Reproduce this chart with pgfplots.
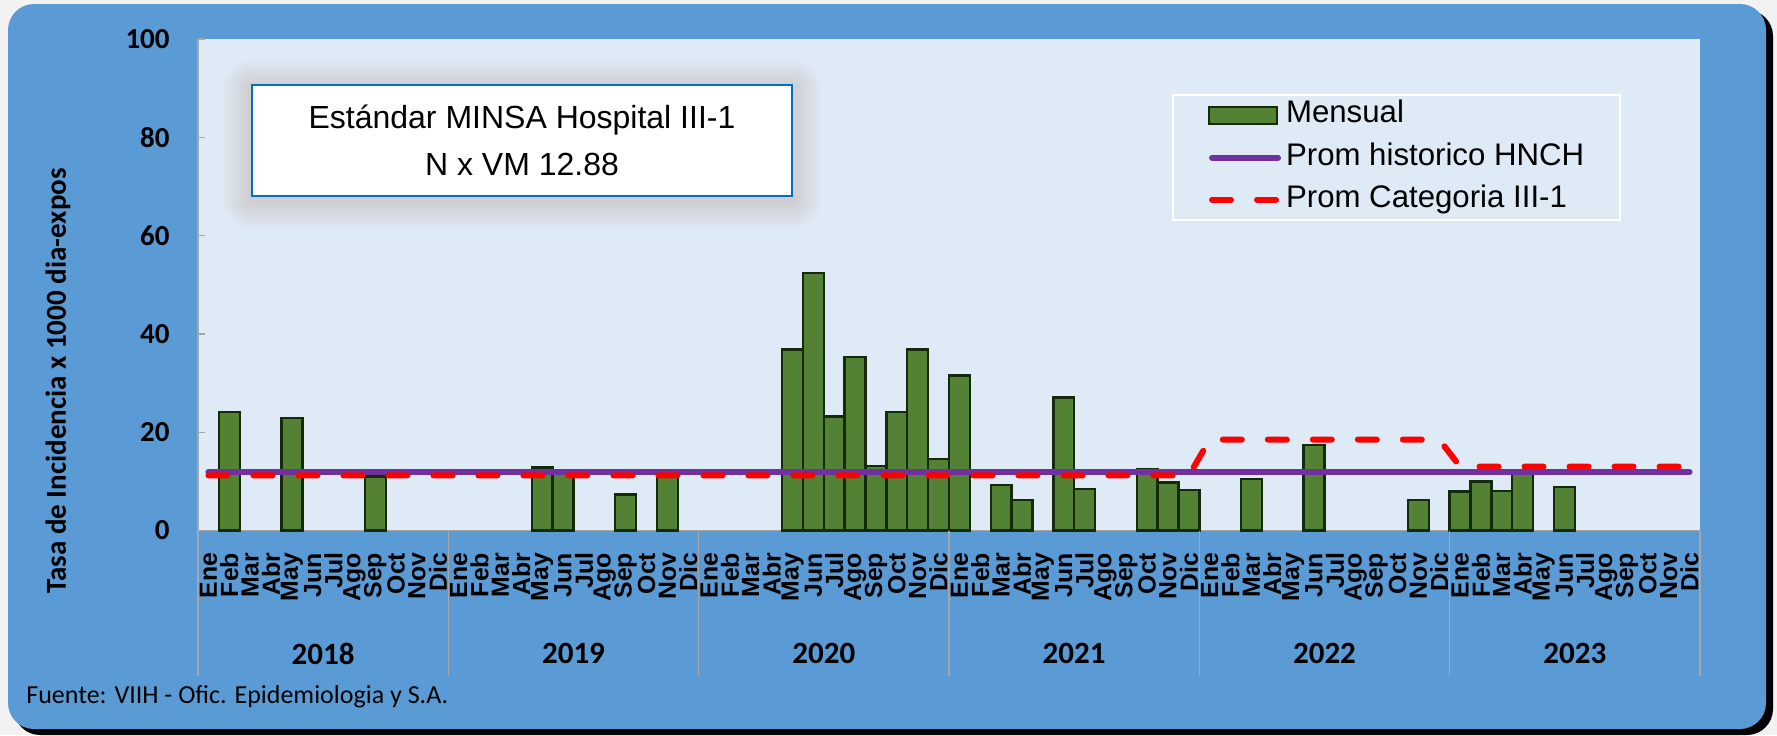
\documentclass[border=0pt]{standalone}
\usepackage{fontspec}
\usepackage{pgfplots}
\usepackage{pgfplotstable}
\pgfplotsset{compat=1.18}
\newfontfamily\arial{Liberation Sans}
\newfontfamily\calibri{Carlito}
\definecolor{outerblue}{HTML}{5B9BD5}
\definecolor{plotbg}{HTML}{DEEAF6}
\definecolor{barfill}{HTML}{548235}
\definecolor{bardraw}{HTML}{15290B}
\definecolor{histpurple}{HTML}{7030A0}
\definecolor{boxblue}{HTML}{0070C0}
\definecolor{pagegrey}{HTML}{F2F2F2}
\definecolor{axgrey}{HTML}{A6A6A6}
\definecolor{glow}{HTML}{B89A8C}

\pgfplotstableread{
x y
1 24.1
4 22.9
8 11.0
16 12.8
17 11.5
20 7.3
22 11.2
28 36.8
29 52.4
30 23.2
31 35.3
32 13.1
33 24.1
34 36.8
35 14.5
36 31.5
38 9.2
39 6.2
41 27.1
42 8.5
45 12.5
46 9.8
47 8.3
50 10.5
53 17.4
58 6.2
60 7.9
61 10.0
62 8.1
63 11.8
65 8.9
}\mensual

\pgfplotstableread{
x y
0 11.9
71 11.9
}\historico

\pgfplotstableread{
x y
0 11.2
47 11.2
48 18.5
59 18.5
60 13.0
71 13.0
}\categoria

\begin{document}
\begin{tikzpicture}
\fill[pagegrey] (0pt,0pt) rectangle (888.5pt,-367.5pt);
\fill[black, rounded corners=13pt] (7pt,-5pt) rectangle (886.5pt,-367.5pt);
\fill[outerblue, rounded corners=13pt] (4pt,-2pt) rectangle (883pt,-364.5pt);

\begin{axis}[
  at={(99pt,-265.25pt)}, anchor=south west,
  scale only axis, width=751pt, height=245.75pt,
  xmin=-0.5, xmax=71.5, ymin=0, ymax=100,
  axis background/.style={fill=plotbg},
  axis x line*=bottom, axis y line*=left,
  axis line style={draw=axgrey, line width=0.6pt},
  ytick={0,20,40,60,80,100},
  tick align=inside,
  major tick length=3.5pt,
  y tick style={draw=axgrey, line width=0.6pt},
  x tick style={draw=none},
  xtick={0,...,71},
  xticklabels={Ene,Feb,Mar,Abr,May,Jun,Jul,Ago,Sep,Oct,Nov,Dic,
               Ene,Feb,Mar,Abr,May,Jun,Jul,Ago,Sep,Oct,Nov,Dic,
               Ene,Feb,Mar,Abr,May,Jun,Jul,Ago,Sep,Oct,Nov,Dic,
               Ene,Feb,Mar,Abr,May,Jun,Jul,Ago,Sep,Oct,Nov,Dic,
               Ene,Feb,Mar,Abr,May,Jun,Jul,Ago,Sep,Oct,Nov,Dic,
               Ene,Feb,Mar,Abr,May,Jun,Jul,Ago,Sep,Oct,Nov,Dic},
  xticklabel style={rotate=90, anchor=east, inner sep=0pt,
     font=\arial\bfseries\fontsize{12.4}{12.4}\selectfont},
  xticklabel shift=11pt,
  yticklabel style={font=\calibri\bfseries\fontsize{14.5}{14.5}\selectfont, inner sep=0pt, xshift=-14pt},
  /pgf/number format/assume math mode=true,
  clip=false,
  legend style={at={(0.6485,0.888)}, anchor=north west, draw=white, line width=0.8pt,
     fill=plotbg, font=\arial\fontsize{15.6}{15.6}\selectfont,
     inner xsep=17.5pt, inner ysep=3pt, row sep=6.6pt,
     nodes={inner sep=0pt, text height=11pt, text depth=3.5pt}},
  legend cell align=left,
]
\addplot[ybar, bar width=1, fill=barfill, draw=bardraw, line width=1.2pt,
  legend image code/.code={\draw[fill=barfill, draw=bardraw, line width=1.2pt] (0pt,-4.25pt) rectangle (34pt,4.25pt); \path (37pt,0pt);}]
  table[x=x,y=y] {\mensual};
\addlegendentry{Mensual}
\addplot[histpurple, line width=3pt, line cap=round, no markers,
  legend image code/.code={\draw[histpurple, line width=3pt, line cap=round] (1.5pt,0pt) -- (34.5pt,0pt); \path (37pt,0pt);}]
  table[x=x,y=y] {\historico};
\addlegendentry{Prom historico HNCH}
\addplot[red, line width=3pt, line cap=round, no markers, dash pattern=on 9.5pt off 13pt,
  legend image code/.code={\draw[red, line width=3pt, line cap=round, dash pattern=on 9.5pt off 13pt] (1.5pt,0pt) -- (34.5pt,0pt); \path (37pt,0pt);}]
  table[x=x,y=y] {\categoria};
\addlegendentry{Prom Categoria III-1\hspace*{9pt}}

\pgfplotsinvokeforeach{-0.5,11.5,23.5,35.5,47.5,59.5,71.5}{
  \draw[axgrey, line width=0.6pt] (axis cs:#1,0) -- (axis cs:#1,-29.5);
}
\node[font=\calibri\bfseries\fontsize{15.5}{15.5}\selectfont] at (axis cs:5.5,-25.1) {2018};
\node[font=\calibri\bfseries\fontsize{15.5}{15.5}\selectfont] at (axis cs:17.5,-25.1) {2019};
\node[font=\calibri\bfseries\fontsize{15.5}{15.5}\selectfont] at (axis cs:29.5,-25.1) {2020};
\node[font=\calibri\bfseries\fontsize{15.5}{15.5}\selectfont] at (axis cs:41.5,-25.1) {2021};
\node[font=\calibri\bfseries\fontsize{15.5}{15.5}\selectfont] at (axis cs:53.5,-25.1) {2022};
\node[font=\calibri\bfseries\fontsize{15.5}{15.5}\selectfont] at (axis cs:65.5,-25.1) {2023};
\end{axis}

% text box with glow
\foreach \s in {2,4,...,14}
  \fill[glow, opacity=0.05, rounded corners=\s pt]
    ({(126-\s)*1pt},{(-44.5+\s)*1pt}) rectangle ({(396+\s)*1pt},{(-100-\s)*1pt});
\draw[boxblue, line width=1.4pt, fill=white] (126pt,-42.5pt) rectangle (396pt,-98pt);
\node[font=\arial\fontsize{16}{16}\selectfont] at (261pt,-60pt) {Estándar MINSA Hospital III-1};
\node[font=\arial\fontsize{16}{16}\selectfont] at (261pt,-82pt) {N x VM 12.88};

\node[rotate=90, font=\calibri\bfseries\fontsize{14.5}{14.5}\selectfont] at (29pt,-190.5pt) {Tasa de Incidencia x 1000 dia-expos};
\node[anchor=west, inner sep=0pt, font=\calibri\fontsize{13}{13}\selectfont] at (13pt,-348.3pt) {Fuente: VIIH - Ofic. Epidemiologia y S.A.};
\end{tikzpicture}
\end{document}
